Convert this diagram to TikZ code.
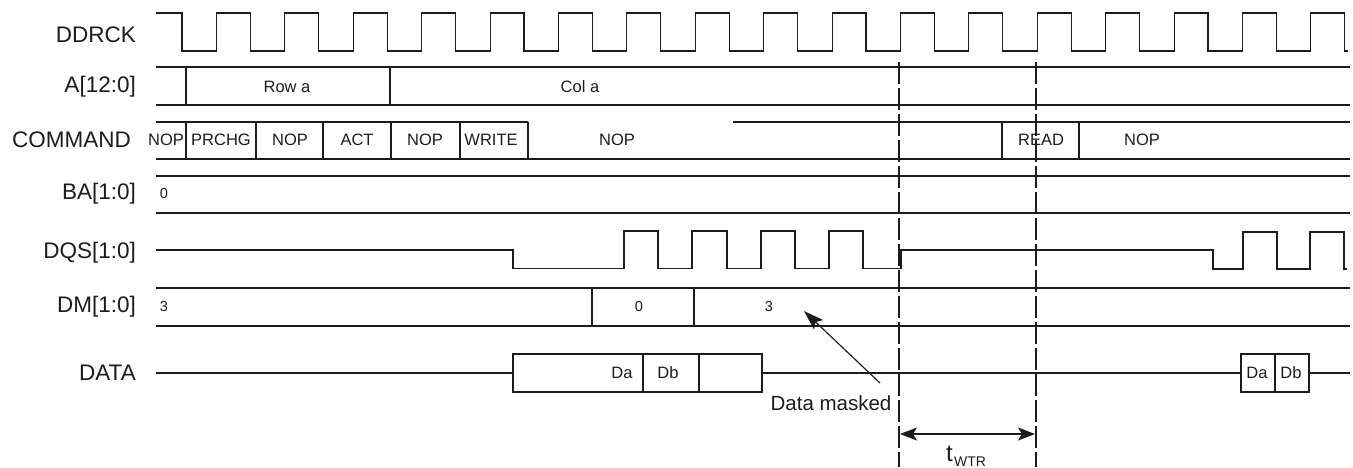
\documentclass[tikz,border=0pt]{standalone}
\usepackage{fontspec}
\setmainfont{Liberation Sans}
\usetikzlibrary{arrows.meta}
\definecolor{ink}{RGB}{28,28,28}
\tikzset{
  sig/.style={draw=ink, line width=1.15pt, line join=miter},
  lbl/.style={anchor=east, inner sep=0pt, text=ink, font=\fontsize{22.5}{26}\selectfont},
  bus/.style={inner sep=0pt, text=ink, font=\fontsize{16.5}{19}\selectfont},
  dig/.style={inner sep=0pt, text=ink, font=\fontsize{14.5}{17}\selectfont},
  note/.style={inner sep=0pt, text=ink, font=\fontsize{20.5}{24}\selectfont},
  guide/.style={draw=ink, line width=1.15pt, dash pattern=on 22pt off 4pt},
  pointer/.style={draw=ink, line width=1.15pt, -{Stealth[length=20pt,width=13pt,inset=4pt]}},
  span/.style={draw=ink, line width=1.15pt, {Stealth[length=17pt,width=13pt,inset=4pt]}-{Stealth[length=17pt,width=13pt,inset=4pt]}}
}
\begin{document}
\begin{tikzpicture}[x=1pt,y=-1pt]
\useasboundingbox (0,0) rectangle (1353,467);
% labels
\node[lbl] (lck) at (136,35) {DDRCK};
\node[lbl] (la) at (136,87) {A[12:0]};
\node[lbl] (lcmd) at (131,140) {COMMAND};
\node[lbl] (lba) at (136,194) {BA[1:0]};
\node[lbl] (ldqs) at (136,253) {DQS[1:0]};
\node[lbl] (ldm) at (136,307) {DM[1:0]};
\node[lbl] (ldata) at (136,373) {DATA};
% clock
\draw[sig] (156,13) foreach \k in {0,...,16} {
  -- ({182+\k*68.4},13) -- ({182+\k*68.4},51) -- ({216.5+\k*68.4},51) -- ({216.5+\k*68.4},13) }
  -- (1344.8,13) -- (1344.8,51) -- (1348,51);
% A[12:0]
\draw[sig] (156,67) -- (1350,67) (156,105) -- (1350,105);
\draw[sig] (186,67) -- (186,105) (390,67) -- (390,105);
\node[bus] (rowa) at (287,87) {Row a};
\node[bus] (cola) at (580,87) {Col a};
% COMMAND
\draw[sig] (156,122) -- (528,122) (733,122) -- (1350,122) (156,159) -- (1350,159);
\foreach \x in {186,256,323,391,460,528} {\draw[sig] (\x,122) -- (\x,159);}
\draw[sig] (1002,122) -- (1002,159) (1079,122) -- (1079,159);
\node[bus] (c1) at (166,140) {NOP};
\node[bus] (c2) at (221,140) {PRCHG};
\node[bus] (c3) at (290,140) {NOP};
\node[bus] (c4) at (357,140) {ACT};
\node[bus] (c5) at (425,140) {NOP};
\node[bus] (c6) at (491,140) {WRITE};
\node[bus] (c7) at (617,140) {NOP};
\node[bus] (c8) at (1041,140) {READ};
\node[bus] (c9) at (1142,140) {NOP};
% BA
\draw[sig] (156,176) -- (1350,176) (156,213) -- (1350,213);
\node[dig] (ba0) at (164,194) {0};
% DQS
\draw[sig] (156,250) -- (513,250) -- (513,268.5) -- (624,268.5)
  -- (624,231) -- (658,231) -- (658,268.5) -- (692,268.5)
  -- (692,231) -- (727,231) -- (727,268.5) -- (761,268.5)
  -- (761,231) -- (795,231) -- (795,268.5) -- (829,268.5)
  -- (829,231) -- (863,231) -- (863,268.5) -- (901,268.5)
  -- (901,250) -- (1213,250) -- (1213,269) -- (1243,269)
  -- (1243,232) -- (1277,232) -- (1277,269) -- (1310,269)
  -- (1310,232) -- (1344,232) -- (1344,269) -- (1347,269);
% DM
\draw[sig] (156,288) -- (1350,288) (156,326) -- (1350,326);
\draw[sig] (592,288) -- (592,326) (694,288) -- (694,326);
\node[dig] (dm3a) at (164,307) {3};
\node[dig] (dm0) at (639,307) {0};
\node[dig] (dm3b) at (769,307) {3};
% DATA
\draw[sig] (156,373) -- (513,373) (762,373) -- (1241,373) (1309,373) -- (1350,373);
\draw[sig] (513,354) rectangle (762,392);
\draw[sig] (643,354) -- (643,392) (699,354) -- (699,392);
\draw[sig] (1241,354) rectangle (1309,392);
\draw[sig] (1275,354) -- (1275,392);
\node[bus] (da1) at (622,373) {Da};
\node[bus] (db1) at (668,373) {Db};
\node[bus] (da2) at (1257,373) {Da};
\node[bus] (db2) at (1291,373) {Db};
% guides
\coordinate (g1t) at (899,62);
\coordinate (g1b) at (899,467);
\coordinate (g2t) at (1036,62);
\coordinate (g2b) at (1036,467);
\draw[guide] (g1t) -- (g1b);
\draw[guide] (g2t) -- (g2b);
% data masked
\node[note] (dmk) at (831,403) {Data masked};
\coordinate (dmtail) at (880,383);
\coordinate (dmtip) at (804,311);
\draw[pointer] (dmtail) -- (dmtip);
% tWTR
\coordinate (w1) at (900,434);
\coordinate (w2) at (1035,434);
\draw[span] (w1) -- (w2);
\node[anchor=base west, inner sep=0pt, text=ink, font=\fontsize{24}{28}\selectfont] (tt) at (946,461) {t};
\node[anchor=base west, inner sep=0pt, text=ink, font=\fontsize{14}{17}\selectfont] (twtr) at (954,466.5) {WTR};
\end{tikzpicture}
\end{document}
